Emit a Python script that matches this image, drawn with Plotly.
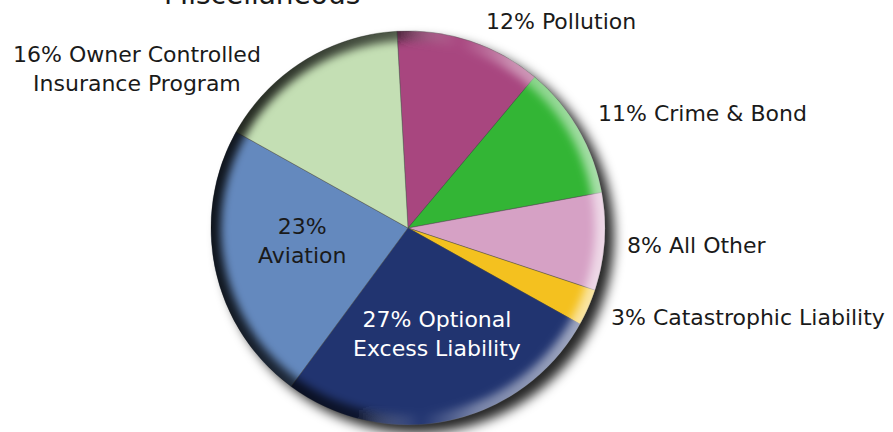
import base64
import plotly.graph_objects as go

# Slice data, clockwise from 12 o'clock
categories = ["Pollution", "Crime & Bond", "All Other", "Catastrophic Liability",
              "Optional Excess Liability", "Aviation", "Owner Controlled Insurance Program"]
shares = [12, 11, 8, 3, 27, 23, 16]
slice_colors = ["#A8467F", "#33B535", "#D6A1C5", "#F4C11F", "#213470", "#6489BE", "#C4DFB4"]

# How each slice label is broken into lines
label_lines = {
    "Pollution": "{p}% Pollution",
    "Crime & Bond": "{p}% Crime & Bond",
    "All Other": "{p}% All Other",
    "Catastrophic Liability": "{p}% Catastrophic Liability",
    "Optional Excess Liability": "{p}% Optional<br>Excess Liability",
    "Aviation": "{p}%<br>Aviation",
    "Owner Controlled Insurance Program": "{p}% Owner Controlled<br>Insurance Program",
}
# label anchor (px from left, px from top) and text colour
label_pos = {
    "Pollution": (561, 21, "#1a1a1a"),
    "Crime & Bond": (702, 113, "#1a1a1a"),
    "All Other": (697, 245, "#1a1a1a"),
    "Catastrophic Liability": (748, 317, "#1a1a1a"),
    "Optional Excess Liability": (437, 334, "#ffffff"),
    "Aviation": (302, 241, "#1a1a1a"),
    "Owner Controlled Insurance Program": (137, 69, "#1a1a1a"),
}

W, H = 893, 432
CX, CY, R = 408, 228, 197
FONT = "DejaVu Sans"

fig = go.Figure(go.Pie(
    labels=categories,
    values=shares,
    sort=False,
    direction="clockwise",
    rotation=-3.2,
    textinfo="none",
    hoverinfo="label+percent",
    marker=dict(colors=slice_colors, line=dict(color="rgba(80,80,80,0.55)", width=0.8)),
    domain=dict(x=[(CX - R) / W, (CX + R) / W], y=[(H - CY - R) / H, (H - CY + R) / H]),
    showlegend=False,
))


def svg_uri(body):
    svg = (f'<svg xmlns="http://www.w3.org/2000/svg" width="{W}" height="{H}" '
           f'viewBox="0 0 {W} {H}">{body}</svg>')
    return "data:image/svg+xml;base64," + base64.b64encode(svg.encode()).decode()


# soft drop shadow behind the disc
shadow = svg_uri(
    '<defs><filter id="s" x="-30%" y="-30%" width="160%" height="160%">'
    '<feGaussianBlur stdDeviation="6"/></filter></defs>'
    f'<circle cx="{CX + 9}" cy="{CY + 8}" r="{R}" fill="#000" fill-opacity="0.85" filter="url(#s)"/>'
)

# bevelled rim: dark on the left, highlighted on the right
bevel = svg_uri(
    '<defs>'
    f'<clipPath id="c"><circle cx="{CX}" cy="{CY}" r="{R}"/></clipPath>'
    '<filter id="b" x="-30%" y="-30%" width="160%" height="160%"><feGaussianBlur stdDeviation="4"/></filter>'
    '<linearGradient id="g" x1="0" y1="0.45" x2="1" y2="0.55">'
    '<stop offset="0" stop-color="#000" stop-opacity="0.85"/>'
    '<stop offset="0.42" stop-color="#000" stop-opacity="0.6"/>'
    '<stop offset="0.58" stop-color="#fff" stop-opacity="0"/>'
    '<stop offset="0.72" stop-color="#fff" stop-opacity="0.4"/>'
    '<stop offset="1" stop-color="#fff" stop-opacity="0.6"/>'
    '</linearGradient></defs>'
    f'<g clip-path="url(#c)"><circle cx="{CX}" cy="{CY}" r="{R + 2}" fill="none" '
    'stroke="url(#g)" stroke-width="24" filter="url(#b)"/></g>'
)

images = [
    dict(source=shadow, xref="paper", yref="paper", x=0, y=1, sizex=1, sizey=1,
         xanchor="left", yanchor="top", sizing="stretch", layer="below"),
    dict(source=bevel, xref="paper", yref="paper", x=0, y=1, sizex=1, sizey=1,
         xanchor="left", yanchor="top", sizing="stretch", layer="above"),
]

annotations = []
for cat, p in zip(categories, shares):
    px, py, col = label_pos[cat]
    annotations.append(dict(
        text=label_lines[cat].format(p=p), x=px / W, y=1 - py / H,
        xref="paper", yref="paper", xanchor="center", yanchor="middle",
        showarrow=False, align="center", font=dict(family=FONT, size=22, color=col),
    ))

annotations.append(dict(
    text="Miscellaneous", x=262 / W, y=1 + 6 / H, xref="paper", yref="paper",
    xanchor="center", yanchor="middle", showarrow=False,
    font=dict(family=FONT, size=28, color="#1a1a1a"),
))

fig.update_layout(
    width=W, height=H,
    margin=dict(l=0, r=0, t=0, b=0),
    paper_bgcolor="white", plot_bgcolor="white",
    images=images, annotations=annotations,
)

fig.write_html("out.html")
